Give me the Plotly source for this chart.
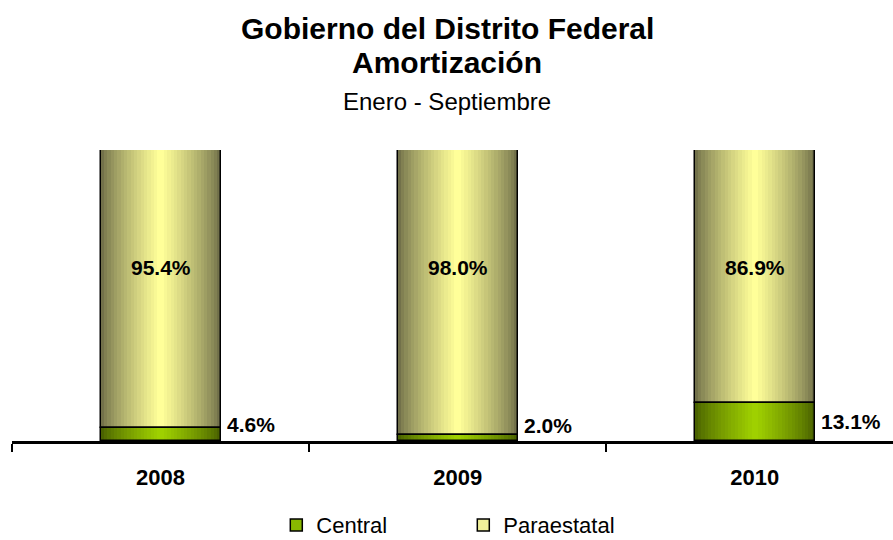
import plotly.graph_objects as go

# data
years = ["2008", "2009", "2010"]
central = [4.6, 2.0, 13.1]
paraestatal = [95.4, 98.0, 86.9]


def mix(c1, c2, t):
    a = [int(c1[i:i + 2], 16) for i in (1, 3, 5)]
    b = [int(c2[i:i + 2], 16) for i in (1, 3, 5)]
    return "rgb({},{},{})".format(*[round(a[k] + (b[k] - a[k]) * t) for k in range(3)])


fig = go.Figure()

# fake a horizontal gradient with nested bars of shrinking width
bar_w = 0.404
n = 18
for i in range(n):
    t = i / (n - 1)
    w = bar_w * (1 - i / n)
    fig.add_trace(go.Bar(x=years, y=central, width=w, base=0,
                         marker=dict(color=mix("#4a6200", "#9fd000", t ** 0.8), line=dict(width=0)),
                         showlegend=False, hoverinfo="skip"))
    fig.add_trace(go.Bar(x=years, y=paraestatal, width=w, base=central,
                         marker=dict(color=mix("#72714a", "#ffff99", t ** 0.8), line=dict(width=0)),
                         showlegend=False, hoverinfo="skip"))

# black outlines
fig.add_trace(go.Bar(x=years, y=central, width=bar_w, base=0,
                     marker=dict(color="rgba(0,0,0,0)", line=dict(color="black", width=1.5)),
                     showlegend=False, hoverinfo="skip"))
fig.add_trace(go.Bar(x=years, y=paraestatal, width=bar_w, base=central,
                     marker=dict(color="rgba(0,0,0,0)", line=dict(color="black", width=1.5)),
                     showlegend=False, hoverinfo="skip"))

# legend entries
fig.add_trace(go.Bar(x=[None], y=[None], name="Central",
                     marker=dict(color="#88b800", line=dict(color="black", width=1.5))))
fig.add_trace(go.Bar(x=[None], y=[None], name="Paraestatal",
                     marker=dict(color="#f0f09a", line=dict(color="black", width=1.5))))

annotations = []
for i, (c, p) in enumerate(zip(central, paraestatal)):
    annotations.append(dict(x=i, y=59.5, text="<b>%.1f%%</b>" % p, showarrow=False,
                            xref="x", yref="y", yanchor="middle",
                            font=dict(size=21, color="black")))
    annotations.append(dict(x=i, y=5 + c / 8, text="<b>%.1f%%</b>" % c, showarrow=False,
                            xref="x", yref="y", yanchor="middle",
                            xanchor="left", xshift=64, font=dict(size=21, color="black")))

annotations += [
    dict(x=0.494, y=1.416, xref="paper", yref="paper", text="<b>Gobierno del Distrito Federal</b>",
         yanchor="middle", showarrow=False, font=dict(size=30, color="black")),
    dict(x=0.494, y=1.302, xref="paper", yref="paper", text="<b>Amortización</b>",
         yanchor="middle", showarrow=False, font=dict(size=30, color="black")),
    dict(x=0.494, y=1.168, xref="paper", yref="paper", text="Enero - Septiembre",
         yanchor="middle", showarrow=False, font=dict(size=24, color="black")),
]

fig.update_layout(
    width=893, height=540,
    barmode="overlay",
    bargap=0,
    plot_bgcolor="white",
    paper_bgcolor="white",
    font=dict(family="Liberation Sans, Arial, sans-serif", color="black"),
    margin=dict(l=12, r=0, t=150, b=99, autoexpand=False),
    annotations=annotations,
    legend=dict(orientation="h", x=0.3, y=-0.289, xanchor="left", yanchor="middle",
                font=dict(size=22), itemwidth=30, entrywidth=142),
    xaxis=dict(type="category", range=[-0.5, 2.465], showline=True, linecolor="black", linewidth=2.5,
               ticks="outside", tickson="boundaries", ticklen=8, tickwidth=2, tickcolor="black",
               tickfont=dict(size=22, color="black"), ticklabelstandoff=15, automargin=False,
               tickvals=years, ticktext=["<b>%s</b>" % y for y in years]),
    yaxis=dict(range=[0, 100], visible=False),
)

fig.write_html("out.html", config={"displayModeBar": False},
               post_script="document.body.style.margin='0';")
